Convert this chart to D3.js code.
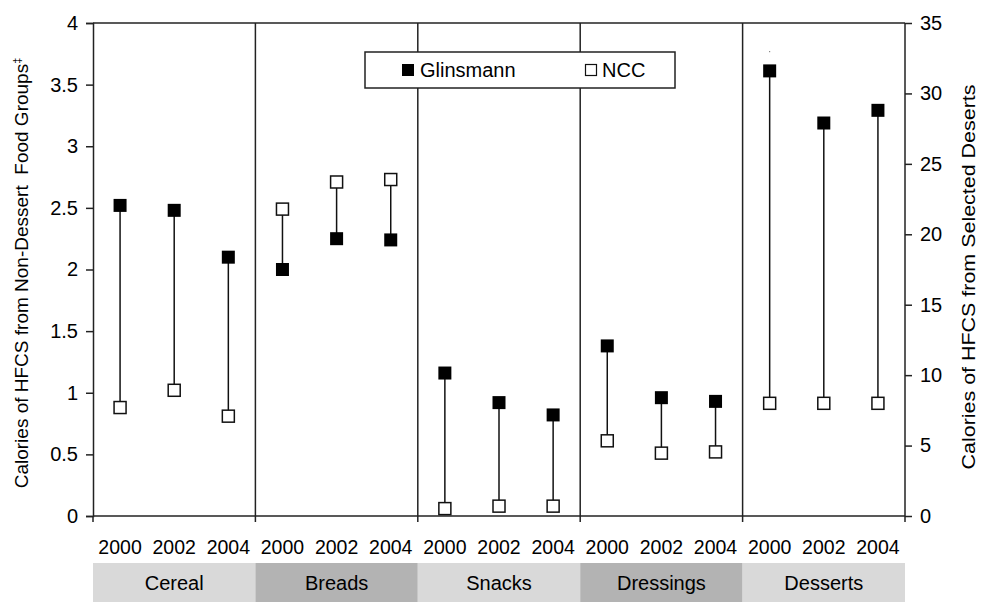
<!DOCTYPE html>
<html>
<head>
<meta charset="utf-8">
<script src="https://cdn.jsdelivr.net/npm/d3@7/dist/d3.min.js"></script>
<style>
  body { margin: 0; background: #fff; }
  text { font-family: Arial, "Liberation Sans", sans-serif; fill: #000; }
</style>
</head>
<body>
<svg id="chart" width="993" height="614"></svg>
<script>
var groups = ["Cereal", "Breads", "Snacks", "Dressings", "Desserts"];
var years = ["2000", "2002", "2004"];
// left axis groups (first four), desserts on right axis
var glinsmann = [2.52, 2.48, 2.10, 2.00, 2.25, 2.24, 1.16, 0.92, 0.82, 1.38, 0.96, 0.93];
var ncc = [0.88, 1.02, 0.81, 2.49, 2.71, 2.73, 0.06, 0.08, 0.08, 0.61, 0.51, 0.52];
var dessertGlinsmann = [31.6, 27.9, 28.8];
var dessertNcc = [8.0, 8.0, 8.0];
var leftTicks = [0, 0.5, 1, 1.5, 2, 2.5, 3, 3.5, 4];
var rightTicks = [0, 5, 10, 15, 20, 25, 30, 35];
var groupFill = ["#d9d9d9", "#b3b3b3", "#d9d9d9", "#b3b3b3", "#d9d9d9"];

var svg = d3.select("#chart");
var margin = {top: 23, left: 93, right: 88, bottom: 98};
var width = 993 - margin.left - margin.right;
var height = 614 - margin.top - margin.bottom;
var g = svg.append("g").attr("transform", "translate(" + margin.left + "," + margin.top + ")");

var slots = [];
groups.forEach(function(gr) { years.forEach(function(y) { slots.push(gr + "-" + y); }); });

var xGroup = d3.scaleBand().domain(groups).range([0, width]);
var xSlot = d3.scaleBand().domain(slots).range([0, width]);
var yLeft = d3.scaleLinear().domain([0, 4]).range([height, 0]);
var yRight = d3.scaleLinear().domain([0, 35]).range([height, 0]);

// build point records
var points = [];
slots.forEach(function(s, i) {
  var gi = Math.floor(i / 3);
  if (gi < 4) {
    points.push({slot: s, g: yLeft(glinsmann[i]), n: yLeft(ncc[i])});
  } else {
    points.push({slot: s, g: yRight(dessertGlinsmann[i - 12]), n: yRight(dessertNcc[i - 12])});
  }
});

// frame: top line and separators
g.append("line").attr("x1", 0).attr("x2", width).attr("y1", 0).attr("y2", 0)
  .attr("stroke", "#222").attr("stroke-width", 1.5);
g.selectAll(".sep").data(groups.slice(1)).enter().append("line")
  .attr("x1", d => xGroup(d)).attr("x2", d => xGroup(d))
  .attr("y1", 0).attr("y2", height)
  .attr("stroke", "#222").attr("stroke-width", 1.5);

// axes
var leftAxis = g.append("g").call(d3.axisLeft(yLeft).tickValues(leftTicks).tickSize(7).tickPadding(8).tickFormat(d3.format("")));
var rightAxis = g.append("g").attr("transform", "translate(" + width + ",0)")
  .call(d3.axisRight(yRight).tickValues(rightTicks).tickSize(7).tickPadding(8));
var bounds = groups.map(d => xGroup(d)).concat([width]);
var bottomAxis = g.append("g").attr("transform", "translate(0," + height + ")");
bottomAxis.append("line").attr("x1", 0).attr("x2", width).attr("stroke", "#222").attr("stroke-width", 1.5);
bottomAxis.selectAll(".bt").data(bounds).enter().append("line")
  .attr("x1", d => d).attr("x2", d => d).attr("y1", 0).attr("y2", 6)
  .attr("stroke", "#222").attr("stroke-width", 1.5);

[leftAxis, rightAxis].forEach(function(a) {
  a.select(".domain").attr("stroke", "#222").attr("stroke-width", 1.5);
  a.selectAll(".tick line").attr("stroke", "#222").attr("stroke-width", 1.5);
  a.selectAll(".tick text").style("font-size", "20px").style("font-family", "Arial, 'Liberation Sans', sans-serif");
});
rightAxis.select(".domain").attr("d", "M0,0V" + height);

// year labels
g.selectAll(".year").data(slots).enter().append("text")
  .attr("x", d => xSlot(d) + xSlot.bandwidth() / 2)
  .attr("y", height + 38)
  .attr("text-anchor", "middle")
  .style("font-size", "19.5px")
  .text(d => d.split("-")[1]);

// group boxes
var gb = g.selectAll(".gbox").data(groups).enter().append("g");
gb.append("rect")
  .attr("x", d => xGroup(d)).attr("y", height + 47)
  .attr("width", xGroup.bandwidth()).attr("height", 39)
  .attr("fill", (d, i) => groupFill[i]);
gb.append("text")
  .attr("x", d => xGroup(d) + xGroup.bandwidth() / 2)
  .attr("y", height + 74)
  .attr("text-anchor", "middle")
  .style("font-size", "20px")
  .text(d => d);

// connecting lines
var ms = 12;
g.selectAll(".stem").data(points).enter().append("line")
  .attr("x1", d => xSlot(d.slot) + xSlot.bandwidth() / 2)
  .attr("x2", d => xSlot(d.slot) + xSlot.bandwidth() / 2)
  .attr("y1", d => d.g).attr("y2", d => d.n)
  .attr("stroke", "#111").attr("stroke-width", 1.5);

g.selectAll(".ncc").data(points).enter().append("rect")
  .attr("x", d => xSlot(d.slot) + xSlot.bandwidth() / 2 - ms / 2)
  .attr("y", d => d.n - ms / 2)
  .attr("width", ms).attr("height", ms)
  .attr("fill", "#fff").attr("stroke", "#111").attr("stroke-width", 1.5);

g.selectAll(".gl").data(points).enter().append("rect")
  .attr("x", d => xSlot(d.slot) + xSlot.bandwidth() / 2 - ms / 2 - 0.5)
  .attr("y", d => d.g - ms / 2 - 0.5)
  .attr("width", ms + 1).attr("height", ms + 1)
  .attr("fill", "#000");

// small stray dot above desserts 2000
g.append("rect")
  .attr("x", xSlot("Desserts-2000") + xSlot.bandwidth() / 2 - 0.5)
  .attr("y", yRight(33.0))
  .attr("width", 1).attr("height", 1).attr("fill", "#555");

// legend
var lg = svg.append("g").attr("transform", "translate(365,52)");
lg.append("rect").attr("width", 310).attr("height", 36)
  .attr("fill", "#fff").attr("stroke", "#222").attr("stroke-width", 1.5);
lg.append("rect").attr("x", 37).attr("y", 12).attr("width", 12).attr("height", 12).attr("fill", "#000");
lg.append("text").attr("x", 55).attr("y", 25).style("font-size", "20px").text("Glinsmann");
lg.append("rect").attr("x", 220.5).attr("y", 12.5).attr("width", 11).attr("height", 11)
  .attr("fill", "#fff").attr("stroke", "#111").attr("stroke-width", 1.2);
lg.append("text").attr("x", 237).attr("y", 25).style("font-size", "20px").text("NCC");

// axis titles
var lt = svg.append("text")
  .attr("transform", "translate(28,273) rotate(-90)")
  .attr("text-anchor", "middle")
  .style("font-size", "19px");
lt.append("tspan").text("Calories of HFCS from Non-Dessert\u00a0 Food Groups");
lt.append("tspan").attr("dy", -7).style("font-size", "11px").text("\u2021");

svg.append("text")
  .attr("transform", "translate(975,277) rotate(-90)")
  .attr("text-anchor", "middle")
  .attr("textLength", 385)
  .attr("lengthAdjust", "spacingAndGlyphs")
  .style("font-size", "19px")
  .text("Calories of HFCS from Selected Deserts");
</script>
</body>
</html>
